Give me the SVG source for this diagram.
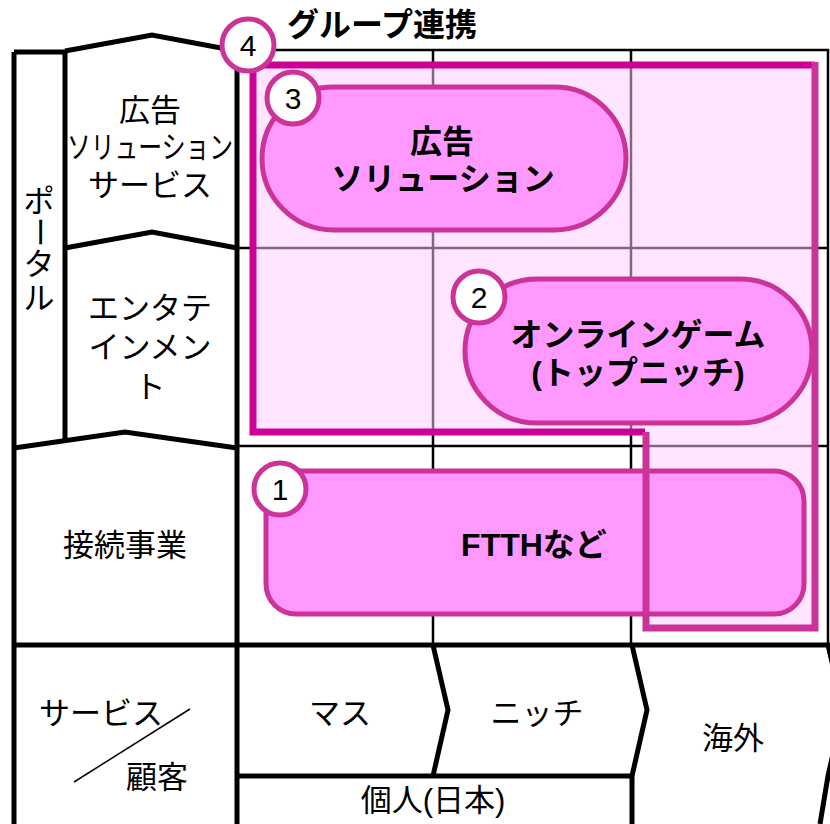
<svg xmlns="http://www.w3.org/2000/svg" width="830" height="824" viewBox="0 0 830 824">
<style>
.thin{fill:none;stroke:#000;stroke-width:2.5}
.thick{fill:none;stroke:#000;stroke-width:5;stroke-linejoin:miter}
.lbl{font-family:"Liberation Sans","Noto Sans CJK JP",sans-serif;font-size:31px;fill:#000;text-anchor:middle;dominant-baseline:central}
.blbl{font-family:"Liberation Sans","Noto Sans CJK JP",sans-serif;font-size:32px;font-weight:bold;fill:#000;text-anchor:middle;dominant-baseline:central}
.box{fill:#FF99FF;stroke:#CC3399;stroke-width:5}
.num{fill:#fff;stroke:#CC3399;stroke-width:5}
.numt{font-family:"Liberation Sans",sans-serif;font-size:30px;fill:#000;text-anchor:middle;dominant-baseline:central}
</style>
<rect width="830" height="824" fill="#fff"/>
<g id="grid">
<path class="thin" d="M237,50 H828 V645 M433,50 V645 M631,50 V645 M237,248 H828 M237,446 H828"/>
</g>
<g id="frame">
<path class="thick" d="M14,52 V824 M14,52 H65 M65,51 V440 M237,49 V824"/>
<path class="thick" d="M65,51 L152,35 L237,51"/>
<path class="thick" d="M65,248 L152,232 L237,248"/>
<path class="thick" d="M14,448 L125,432 L237,448"/>
<path class="thick" d="M14,645 H830 M237,776 H632 M632,776 V824"/>
<path class="thick" d="M433,645 L448,710 L433,776"/>
<path class="thick" d="M632,645 L647,710 L632,776"/>
<path class="thick" d="M828,645 L843,710 L828,776 L820,824"/>
<line x1="74" y1="782" x2="190" y2="709" stroke="#000" stroke-width="1.5"/>
</g>
<g id="labels">
<text class="lbl" x="150" y="110">広告</text>
<text class="lbl" x="150" y="147" textLength="166" lengthAdjust="spacingAndGlyphs">ソリューション</text>
<text class="lbl" x="150" y="185">サービス</text>
<text class="lbl" x="39" y="201">ポ</text>
<text class="lbl" x="39" y="232" transform="rotate(90 39 232)">ー</text>
<text class="lbl" x="39" y="264">タ</text>
<text class="lbl" x="39" y="298">ル</text>
<text class="lbl" x="150" y="308">エンタテ</text>
<text class="lbl" x="150" y="347">インメン</text>
<text class="lbl" x="150" y="387">ト</text>
<text class="lbl" x="125" y="545">接続事業</text>
<text class="lbl" x="101" y="713">サービス</text>
<text class="lbl" x="157" y="777">顧客</text>
<text class="lbl" x="340" y="713">マス</text>
<text class="lbl" x="537" y="713">ニッチ</text>
<text class="lbl" x="733" y="738">海外</text>
<text class="lbl" x="433" y="800">個人(日本)</text>
</g>
<g id="group-area">
<path d="M253,65 H815 V630 H645 V432 H253 Z" fill="#FFCCFF" fill-opacity="0.5"/>
</g>
<g id="node3">
<rect class="box" x="262" y="87" width="364" height="143" rx="71.5"/>
<text class="blbl" x="442" y="142">広告</text>
<text class="blbl" x="443" y="179">ソリューション</text>
</g>
<g id="node2">
<rect class="box" x="465" y="279" width="347" height="144" rx="72"/>
<text class="blbl" x="638" y="335">オンラインゲーム</text>
<text class="blbl" x="638" y="373">(トップニッチ)</text>
</g>
<g id="node1">
<rect class="box" x="266" y="471" width="538" height="143" rx="30"/>
<text class="blbl" x="534" y="545">FTTHなど</text>
</g>
<g id="node4">
<path d="M645,432 H253 V65 H815" fill="none" stroke="#CC0099" stroke-width="7"/>
<path d="M646,432 V628 H815 V62" fill="none" stroke="#CC3399" stroke-width="7"/>
<text x="287" y="25" font-family="Liberation Sans,Noto Sans CJK JP,sans-serif" font-size="32" font-weight="bold" dominant-baseline="central">グループ連携</text>
</g>
<g id="badges">
<circle class="num" cx="248" cy="45" r="26"/><text class="numt" x="248" y="45">4</text>
<circle class="num" cx="293" cy="98" r="26"/><text class="numt" x="293" y="98">3</text>
<circle class="num" cx="479" cy="297" r="26"/><text class="numt" x="479" y="297">2</text>
<circle class="num" cx="280" cy="489" r="26"/><text class="numt" x="280" y="489">1</text>
</g>
</svg>
